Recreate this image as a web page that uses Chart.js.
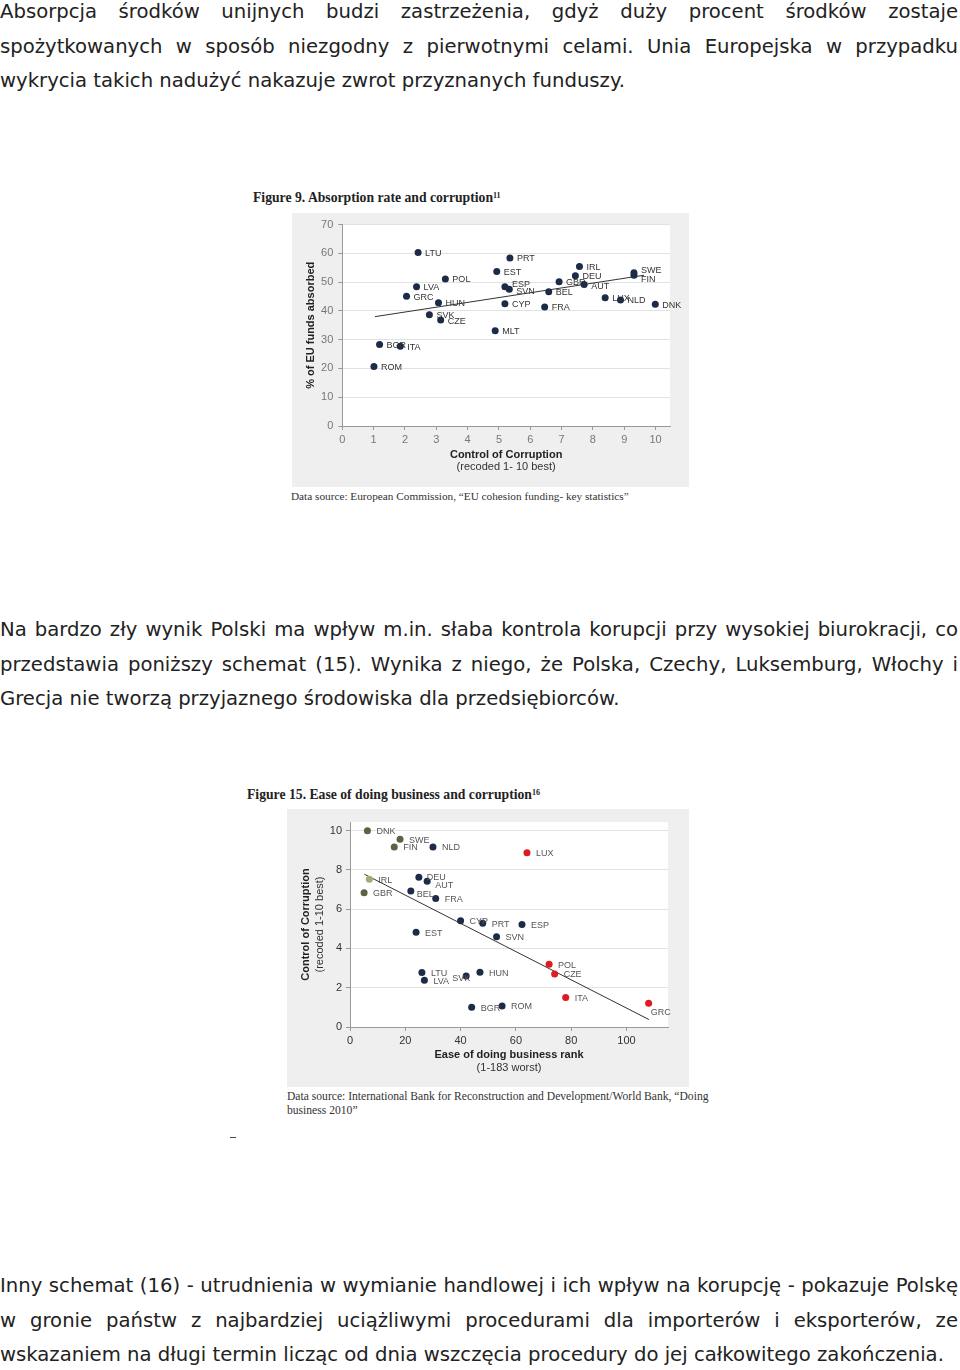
<!DOCTYPE html>
<html>
<head>
<meta charset="utf-8">
<script src="https://cdn.jsdelivr.net/npm/chart.js@4.4.0/dist/chart.umd.min.js"></script>
<style>
  body { margin: 0; background: #fff; width: 960px; height: 1370px; overflow: hidden; position: relative; }
  .para { position: absolute; left: 0; width: 958px; font-family: "DejaVu Sans", sans-serif; font-size: 19.65px; line-height: 34.5px; color: #222; }
  .para div { white-space: nowrap; }
  .para .j { text-align: justify; text-align-last: justify; }
  .fig-title { position: absolute; font-family: "Liberation Serif", serif; font-weight: bold; font-size: 13.7px; line-height: 16px; color: #222; white-space: nowrap; }
  .fig-title sup { font-size: 8px; vertical-align: 4px; }
  .src { position: absolute; font-family: "Liberation Serif", serif; line-height: 14px; color: #333; white-space: nowrap; }
  canvas { position: absolute; }
</style>
</head>
<body>

<div class="para" style="top:-5px">
  <div class="j">Absorpcja środków unijnych budzi zastrzeżenia, gdyż duży procent środków zostaje</div>
  <div class="j">spożytkowanych w sposób niezgodny z pierwotnymi celami. Unia Europejska w przypadku</div>
  <div>wykrycia takich nadużyć nakazuje zwrot przyznanych funduszy.</div>
</div>

<div class="fig-title" style="left:253px; top:188px">Figure 9. Absorption rate and corruption<sup>11</sup></div>
<canvas id="chart9" width="397" height="274" style="left:292px; top:213px"></canvas>
<div class="src" style="left:291px; top:489px; font-size:11.25px">Data source: European Commission, “EU cohesion funding- key statistics”</div>

<div class="para" style="top:613px">
  <div class="j">Na bardzo zły wynik Polski ma wpływ m.in. słaba kontrola korupcji przy wysokiej biurokracji, co</div>
  <div class="j">przedstawia poniższy schemat (15). Wynika z niego, że Polska, Czechy, Luksemburg, Włochy i</div>
  <div>Grecja nie tworzą przyjaznego środowiska dla przedsiębiorców.</div>
</div>

<div class="fig-title" style="left:247px; top:785px">Figure 15. Ease of doing business and corruption<sup>16</sup></div>
<canvas id="chart15" width="402" height="278" style="left:287px; top:809px"></canvas>
<div class="src" style="left:287px; top:1090px; font-size:11.6px">Data source: International Bank for Reconstruction and Development/World Bank, “Doing<br>business 2010”</div>
<div style="position:absolute; left:230px; top:1137px; width:6px; height:1px; background:#446"></div>

<div class="para" style="top:1269px">
  <div class="j">Inny schemat (16) - utrudnienia w wymianie handlowej i ich wpływ na korupcję - pokazuje Polskę</div>
  <div class="j">w gronie państw z najbardziej uciążliwymi procedurami dla importerów i eksporterów, ze</div>
  <div>wskazaniem na długi termin licząc od dnia wszczęcia procedury do jej całkowitego zakończenia.</div>
</div>

<script>
// Figure 9 data
const names9 = ['LTU','PRT','EST','IRL','DEU','SWE','FIN','POL','LVA','ESP','SVN','GBR','AUT','BEL','GRC','HUN','CYP','FRA','LUX','NLD','DNK','SVK','CZE','MLT','BGR','ITA','ROM'];
const corruption9 = [2.42,5.35,4.93,7.57,7.44,9.31,9.31,3.29,2.37,5.19,5.33,6.92,7.72,6.59,2.05,3.07,5.19,6.46,8.39,8.88,9.99,2.78,3.14,4.88,1.19,1.85,1.01];
const absorbed9 = [60.3,58.4,53.7,55.4,52.2,53.3,52.4,51.1,48.4,48.4,47.5,50.1,49.2,46.7,45.1,42.8,42.5,41.4,44.6,43.8,42.3,38.7,36.8,33.1,28.3,27.7,20.7];
const trend9X = [1.04, 9.63];
const trend9Y = [38.0, 52.4];
const xTicks9 = [0,1,2,3,4,5,6,7,8,9,10];
const yTicks9 = [0,10,20,30,40,50,60,70];

// Figure 15 data
const names15 = ['DNK','SWE','FIN','NLD','LUX','IRL','GBR','DEU','AUT','BEL','FRA','CYP','PRT','ESP','EST','SVN','POL','CZE','LTU','HUN','SVK','LVA','ITA','BGR','ROM','GRC'];
const business15 = [6.3,18.1,16.0,30.0,64.0,7.0,5.1,24.9,27.9,22.0,31.0,40.0,48.0,62.2,23.9,53.0,72.0,74.0,26.0,47.0,42.0,26.9,78.0,44.0,55.0,108.0];
const corruption15 = [10.0,9.56,9.17,9.17,8.88,7.52,6.84,7.62,7.42,6.92,6.55,5.41,5.28,5.22,4.83,4.59,3.2,2.7,2.78,2.79,2.6,2.38,1.5,1.0,1.07,1.21];
const group15 = ['lead','lead','lead','other','flag','lead2','lead','other','other','other','other','other','other','other','other','other','flag','flag','other','other','other','other','flag','other','other','flag'];
const trend15X = [5.2, 108.1];
const trend15Y = [7.78, 0.38];
const xTicks15 = [0,20,40,60,80,100];
const yTicks15 = [0,2,4,6,8,10];

const groupColors = { lead: '#5b6442', lead2: '#a3aa72', flag: '#e01b1f', other: '#1c2b48' };

Chart.defaults.font.family = '"Liberation Sans", Arial, sans-serif';

// grey panel + white plot area, labels next to dots, second line of axis titles
const panel = {
  id: 'panel',
  beforeDraw(chart) {
    const c = chart.ctx, a = chart.chartArea;
    c.save();
    c.fillStyle = '#efefef';
    c.fillRect(0, 0, chart.width, chart.height);
    c.fillStyle = '#ffffff';
    c.fillRect(a.left, a.top, a.right - a.left, a.bottom - a.top);
    c.restore();
  },
  afterDraw(chart, args, opts) {
    const c = chart.ctx;
    // point labels
    const meta = chart.getDatasetMeta(0);
    c.save();
    c.font = '9px "Liberation Sans", Arial, sans-serif';
    c.fillStyle = opts.labelColor;
    c.textBaseline = 'middle';
    meta.data.forEach((pt, i) => {
      const n = opts.names[i];
      const nd = opts.nudge[n] || [0, 0];
      c.fillText(n, pt.x + opts.dx + nd[0], pt.y + 1 + nd[1]);
    });
    // sub titles
    c.font = '11px "Liberation Sans", Arial, sans-serif';
    c.fillStyle = '#333';
    c.textAlign = 'center';
    const xs = chart.scales.x, ys = chart.scales.y;
    c.fillText(opts.subX, (xs.left + xs.right) / 2, opts.subXY);
    if (opts.subY) {
      c.translate(opts.subYX, (ys.top + ys.bottom) / 2);
      c.rotate(-Math.PI / 2);
      c.fillText(opts.subY, 0, 0);
    }
    c.restore();
  }
};

function axes(o) {
  return {
    x: {
      type: 'linear', min: 0, max: o.xMax,
      afterBuildTicks: s => { s.ticks = o.xTicks.map(v => ({ value: v })); },
      afterFit: s => { s.height = o.xH; },
      grid: { drawOnChartArea: false, tickLength: 4, tickColor: '#999' },
      border: { color: '#999' },
      ticks: { color: o.tickColor, font: { size: 11 }, padding: 3, maxRotation: 0 },
      title: { display: true, text: o.xTitle, color: '#222', font: { size: 11, weight: 'bold' }, padding: { top: 0, bottom: o.xTitlePad } }
    },
    y: {
      type: 'linear', min: 0, max: o.yMax,
      afterBuildTicks: s => { s.ticks = o.yTicks.map(v => ({ value: v })); },
      afterFit: s => { s.width = o.yW; },
      grid: { color: '#e2e2e2', tickLength: 4, tickColor: '#999' },
      border: { color: '#999' },
      ticks: { color: o.tickColor, font: { size: 11 }, padding: o.yTickPad },
      title: { display: true, text: o.yTitle, color: '#222', font: { size: 11, weight: 'bold' }, padding: { top: o.yTitlePad, bottom: 0 } }
    }
  };
}

new Chart(document.getElementById('chart9'), {
  type: 'scatter',
  data: {
    datasets: [
      {
        data: corruption9.map((x, i) => ({ x: x, y: absorbed9[i] })),
        backgroundColor: '#1c2b48', borderWidth: 0, pointRadius: 3.5
      },
      {
        type: 'line',
        data: trend9X.map((x, i) => ({ x: x, y: trend9Y[i] })),
        borderColor: '#333', borderWidth: 1, pointRadius: 0, fill: false
      }
    ]
  },
  options: {
    responsive: false, animation: false, events: [],
    layout: { padding: { top: 10.3, right: 19, left: 0, bottom: 0 } },
    scales: axes({
      xMax: 10.46, yMax: 70, xTicks: xTicks9, yTicks: yTicks9, xH: 61, yW: 50.3,
      tickColor: '#777', yTickPad: 5,
      xTitle: 'Control of Corruption', xTitlePad: 25.4,
      yTitle: '% of EU funds absorbed', yTitlePad: 12.4
    }),
    plugins: {
      legend: { display: false }, tooltip: { enabled: false },
      panel: {
        names: names9, labelColor: '#333', dx: 7,
        nudge: { SWE: [0, -3], FIN: [0, 3.5], ESP: [0, -3], SVN: [0, 1], AUT: [0, 1] },
        subX: '(recoded 1- 10 best)', subXY: 254
      }
    }
  },
  plugins: [panel]
});

new Chart(document.getElementById('chart15'), {
  type: 'scatter',
  data: {
    datasets: [
      {
        data: business15.map((x, i) => ({ x: x, y: corruption15[i] })),
        backgroundColor: group15.map(g => groupColors[g]), borderWidth: 0, pointRadius: 3.5
      },
      {
        type: 'line',
        data: trend15X.map((x, i) => ({ x: x, y: trend15Y[i] })),
        borderColor: '#333', borderWidth: 1, pointRadius: 0, fill: false
      }
    ]
  },
  options: {
    responsive: false, animation: false, events: [],
    layout: { padding: { top: 13, right: 21, left: 0, bottom: 0 } },
    scales: axes({
      xMax: 115, yMax: 10.44, xTicks: xTicks15, yTicks: yTicks15, xH: 60, yW: 63,
      tickColor: '#333', yTickPad: 4,
      xTitle: 'Ease of doing business rank', xTitlePad: 25.4,
      yTitle: 'Control of Corruption', yTitlePad: 12.4
    }),
    plugins: {
      legend: { display: false }, tooltip: { enabled: false },
      panel: {
        names: names15, labelColor: '#555', dx: 9,
        nudge: { GRC: [-7, 8], SVK: [-23, 2], BEL: [-3, 2], AUT: [-1, 3], DEU: [-1, -1] },
        subX: '(1-183 worst)', subXY: 259,
        subY: '(recoded 1-10 best)', subYX: 33
      }
    }
  },
  plugins: [panel]
});
</script>
</body>
</html>
